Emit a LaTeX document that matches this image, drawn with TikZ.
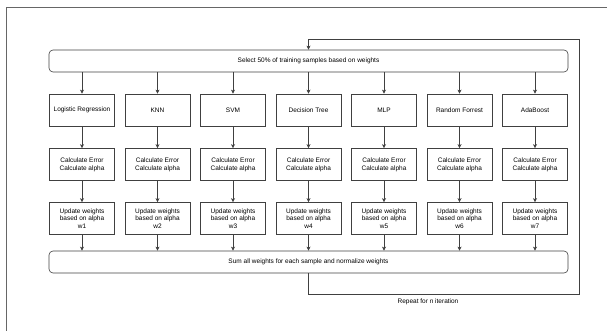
\documentclass[tikz,border=0pt]{standalone}
\usepackage{fontspec}
\setmainfont{Liberation Sans}
\usetikzlibrary{arrows.meta}
\tikzset{
  algo/.style={draw=black!75, line width=0.6pt, minimum width=65pt, minimum height=32pt,
    inner sep=1pt, align=center, font=\fontsize{6.5}{7.8}\selectfont},
  wide/.style={draw=black!75, line width=0.6pt, rounded corners=4pt, minimum width=519pt,
    minimum height=22pt, font=\fontsize{6.5}{7.8}\selectfont},
  arr/.style={draw=black!75, line width=0.6pt, -{Stealth[length=4pt,width=4pt,inset=1pt]}},
}
\begin{document}
\begin{tikzpicture}[x=1pt,y=-1pt]
      \useasboundingbox (0,0) rectangle (607,331);
      \draw[black!60, line width=0.6pt] (6,331) -- (6,7) -- (607,7);
      \draw
        (308.5,61) node[wide] (sel){Select 50\% of training samples based on weights}
        (308.5,262) node[wide] (sum){Sum all weights for each sample and normalize weights}
        (82,110) node[algo] (lr){Logistic Regression}
        (157.5,110) node[algo] (knn){KNN}
        (233,110) node[algo] (svm){SVM}
        (308.5,110) node[algo] (dt){Decision Tree}
        (384,110) node[algo] (mlp){MLP}
        (459.5,110) node[algo] (rf){Random Forrest}
        (535,110) node[algo] (ada){AdaBoost}
        (82,164.5) node[algo] (err1){Calculate Error\\Calculate alpha}
        (157.5,164.5) node[algo] (err2){Calculate Error\\Calculate alpha}
        (233,164.5) node[algo] (err3){Calculate Error\\Calculate alpha}
        (308.5,164.5) node[algo] (err4){Calculate Error\\Calculate alpha}
        (384,164.5) node[algo] (err5){Calculate Error\\Calculate alpha}
        (459.5,164.5) node[algo] (err6){Calculate Error\\Calculate alpha}
        (535,164.5) node[algo] (err7){Calculate Error\\Calculate alpha}
        (82,218.5) node[algo] (upd1){Update weights\\based on alpha\\w1}
        (157.5,218.5) node[algo] (upd2){Update weights\\based on alpha\\w2}
        (233,218.5) node[algo] (upd3){Update weights\\based on alpha\\w3}
        (308.5,218.5) node[algo] (upd4){Update weights\\based on alpha\\w4}
        (384,218.5) node[algo] (upd5){Update weights\\based on alpha\\w5}
        (459.5,218.5) node[algo] (upd6){Update weights\\based on alpha\\w6}
        (535,218.5) node[algo] (upd7){Update weights\\based on alpha\\w7};
      \coordinate (loopa) at (308.5,294);
      \coordinate (loopb) at (579,294);
      \coordinate (loopc) at (579,39);
      \coordinate (loopd) at (308.5,39);
      \node[font=\fontsize{6.5}{7.8}\selectfont, anchor=north] (rep) at (428,295.5) {Repeat for n iteration};
      \begin{scope}[arr]
        \draw (sel.south -| lr) to (lr);
        \draw (sel.south -| knn) to (knn);
        \draw (sel.south -| svm) to (svm);
        \draw (sel.south -| dt) to (dt);
        \draw (sel.south -| mlp) to (mlp);
        \draw (sel.south -| rf) to (rf);
        \draw (sel.south -| ada) to (ada);
        \draw (lr) to (err1);
        \draw (knn) to (err2);
        \draw (svm) to (err3);
        \draw (dt) to (err4);
        \draw (mlp) to (err5);
        \draw (rf) to (err6);
        \draw (ada) to (err7);
        \draw (err1) to (upd1);
        \draw (err2) to (upd2);
        \draw (err3) to (upd3);
        \draw (err4) to (upd4);
        \draw (err5) to (upd5);
        \draw (err6) to (upd6);
        \draw (err7) to (upd7);
        \draw (upd1) to (sum.north -| upd1);
        \draw (upd2) to (sum.north -| upd2);
        \draw (upd3) to (sum.north -| upd3);
        \draw (upd4) to (sum.north -| upd4);
        \draw (upd5) to (sum.north -| upd5);
        \draw (upd6) to (sum.north -| upd6);
        \draw (upd7) to (sum.north -| upd7);
        \draw (sum.south -| dt) -- (loopa) -- (loopb) -- (loopc) -- (loopd) -- (sel.north -| dt);
      \end{scope}
    \end{tikzpicture}
\end{document}
